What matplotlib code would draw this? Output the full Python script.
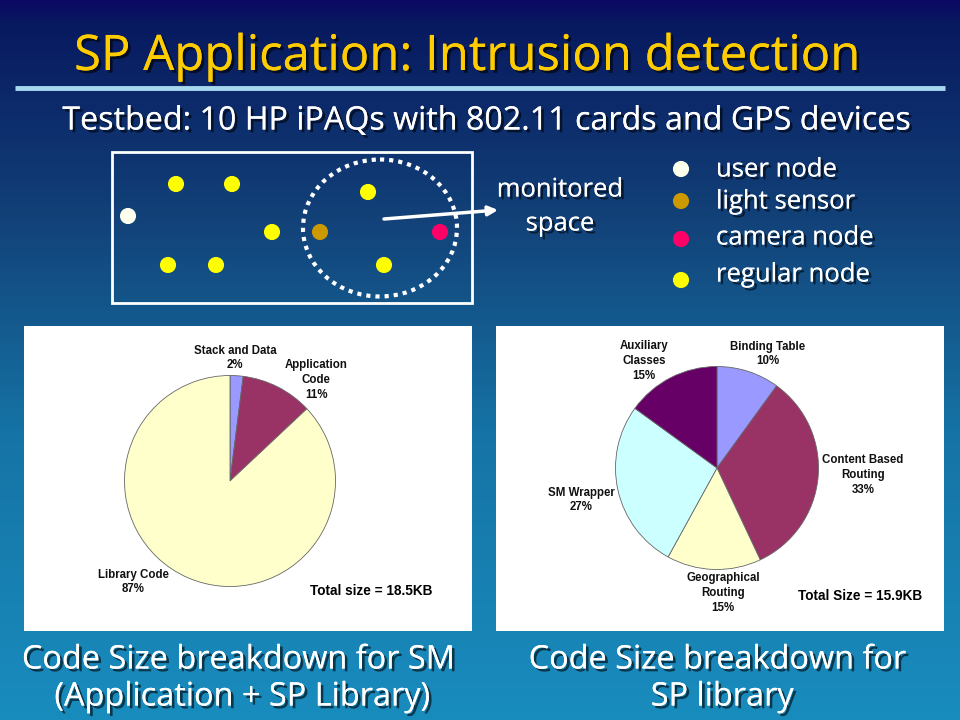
import matplotlib
matplotlib.use('Agg')
import matplotlib.pyplot as plt
import numpy as np
from matplotlib import patheffects as pe
from matplotlib.patches import Ellipse, Rectangle

# ---------------- data ----------------
title = "SP Application: Intrusion detection"
subtitle = "Testbed: 10 HP iPAQs with 802.11 cards and GPS devices"

node_types = ["regular", "regular", "user", "regular", "light", "regular",
              "camera", "regular", "regular", "regular"]
node_x = [176, 232, 128, 272, 320, 368, 440, 168, 216, 384]
node_y = [184, 184, 216, 232, 232, 192, 232, 265, 265, 265]

legend_types = ["user", "light", "camera", "regular"]
legend_labels = ["user node", "light sensor", "camera node", "regular node"]
node_colors = {"user": "#ffffee", "light": "#cc9900",
               "camera": "#ff0066", "regular": "#ffff00"}

sm_labels = ["Stack and Data", "Application\nCode", "Library Code"]
sm_values = [2, 11, 87]
sm_total = "Total size = 18.5KB"
sm_caption = ["Code Size breakdown for SM", "(Application + SP Library)"]

lib_labels = ["Binding Table", "Content Based\nRouting", "Geographical\nRouting",
              "SM Wrapper", "Auxiliary\nClasses"]
lib_values = [10, 33, 15, 27, 15]
lib_total = "Total Size = 15.9KB"
lib_caption = ["Code Size breakdown for", "SP library"]

sm_colors = ["#9999ff", "#993366", "#ffffcc"]
lib_colors = ["#9999ff", "#993366", "#ffffcc", "#ccffff", "#660066"]

# ---------------- figure ----------------
W, H = 960, 720
fig = plt.figure(figsize=(9.6, 7.2), dpi=100)
ax = fig.add_axes([0, 0, 1, 1])

# background gradient
t = np.linspace(0, 1, 400)
stops_t = [0.0, 0.03, 0.3, 0.6, 1.0]
stops_c = np.array([(12, 8, 100), (8, 25, 95), (18, 65, 120),
                    (22, 115, 165), (25, 140, 190)]) / 255.0
grad = np.stack([np.interp(t, stops_t, stops_c[:, i]) for i in range(3)], axis=1)
grad = np.repeat(grad[:, None, :], 2, axis=1)
ax.imshow(grad, extent=[0, W, H, 0], aspect='auto', zorder=0, interpolation='bilinear')
ax.set_xlim(0, W)
ax.set_ylim(H, 0)
ax.axis('off')

renderer = fig.canvas.get_renderer()
shadow = [pe.withSimplePatchShadow(offset=(2, -2), shadow_rgbFace='black', alpha=0.6),
          pe.Normal()]
FONT = "Open Sans"


def fit(txt, width):
    bb = txt.get_window_extent(renderer)
    txt.set_fontsize(txt.get_fontsize() * width / bb.width)
    return txt.get_fontsize()


# title
tt = ax.text(468, 57, title, color="#ffcc00", ha='center', va='center',
             family=FONT, fontsize=30, path_effects=shadow, zorder=5)
fit(tt, 787)
ax.plot([15, 945], [88, 88], color="#a8d8f0", lw=3.5, solid_capstyle='butt', zorder=4)

st = ax.text(486, 121, subtitle, color="white", ha='center', va='center',
             family=FONT, fontsize=18, path_effects=shadow, zorder=5)
fit(st, 848)

# testbed box
ax.add_patch(Rectangle((112, 152), 360, 151, fill=False, ec='white', lw=2, zorder=3))
ax.add_patch(Ellipse((380, 228), 154, 137, fill=False, ec='white', lw=3,
                     linestyle=(0, (1, 1.2)), zorder=3))
ax.scatter(node_x, node_y, s=135, c=[node_colors[k] for k in node_types],
           edgecolors='none', zorder=4)
ax.annotate('', xy=(498, 210), xytext=(384, 219),
            arrowprops=dict(arrowstyle='-|>', color='white', lw=2.5,
                            mutation_scale=14, shrinkA=0, shrinkB=0), zorder=4)

m1 = ax.text(560, 190, "monitored", color='white', ha='center', va='center',
             family=FONT, fontsize=15, path_effects=shadow, zorder=5)
fs = fit(m1, 126)
ax.text(560, 224, "space", color='white', ha='center', va='center',
        family=FONT, fontsize=fs, path_effects=shadow, zorder=5)

# legend
leg_y_dot = [169, 201, 239, 280]
leg_y_txt = [170, 202, 238, 275]
ax.scatter([681] * 4, leg_y_dot, s=135, c=[node_colors[k] for k in legend_types],
           edgecolors='none', zorder=4)
lts = []
for lab, y in zip(legend_labels, leg_y_txt):
    lts.append(ax.text(716, y, lab, color='white', ha='left', va='center',
                       family=FONT, fontsize=15, path_effects=shadow, zorder=5))
fs = fit(lts[3], 154)
for l in lts:
    l.set_fontsize(fs)

# panels
ax.add_patch(Rectangle((24, 326), 448, 305, fc='white', ec='none', zorder=2))
ax.add_patch(Rectangle((496, 326), 448, 305, fc='white', ec='none', zorder=2))


def pie_axes(cx, cy, r):
    a = fig.add_axes([(cx - r) / W, (H - cy - r) / H, 2 * r / W, 2 * r / H])
    a.set_facecolor('none')
    return a


wedge_kw = dict(edgecolor='#666666', linewidth=0.6)

pa = pie_axes(230, 481, 105.5)
pa.pie(sm_values, colors=sm_colors, startangle=90, counterclock=False,
       radius=1, wedgeprops=wedge_kw)
pa.set_xlim(-1.0, 1.0)
pa.set_ylim(-1.0, 1.0)
pa.axis('off')

pb = pie_axes(717, 468, 101.5)
pb.pie(lib_values, colors=lib_colors, startangle=90, counterclock=False,
       radius=1, wedgeprops=wedge_kw)
pb.set_xlim(-1.0, 1.0)
pb.set_ylim(-1.0, 1.0)
pb.axis('off')

LFONT = "Liberation Sans"
lab_fs = 8.3
sm_pos = [(235, 358), (316, 380), (133, 582)]
for lab, v, (x, y) in zip(sm_labels, sm_values, sm_pos):
    ax.text(x, y, f"{lab}\n{v}%", ha='center', va='center', family=LFONT,
            weight='bold', fontsize=lab_fs, linespacing=1.3, color='#111111', zorder=6)
lib_pos = [(768, 354), (863, 475), (723, 593), (581, 500), (644, 361)]
for lab, v, (x, y) in zip(lib_labels, lib_values, lib_pos):
    ax.text(x, y, f"{lab}\n{v}%", ha='center', va='center', family=LFONT,
            weight='bold', fontsize=lab_fs, linespacing=1.3, color='#111111', zorder=6)

t1 = ax.text(371, 591, sm_total, ha='center', va='center', family=LFONT,
             weight='bold', fontsize=10, color='black', zorder=6)
fs = fit(t1, 123)
ax.text(860, 596, lib_total, ha='center', va='center', family=LFONT,
        weight='bold', fontsize=fs, color='black', zorder=6)

# captions
c1 = ax.text(238, 660, sm_caption[0], color='white', ha='center', va='center',
             family=FONT, fontsize=18, path_effects=shadow, zorder=5)
fs = fit(c1, 433)
ax.text(242, 697, sm_caption[1], color='white', ha='center', va='center',
        family=FONT, fontsize=fs, path_effects=shadow, zorder=5)
ax.text(717, 660, lib_caption[0], color='white', ha='center', va='center',
        family=FONT, fontsize=fs, path_effects=shadow, zorder=5)
ax.text(722, 697, lib_caption[1], color='white', ha='center', va='center',
        family=FONT, fontsize=fs, path_effects=shadow, zorder=5)

fig.savefig("out.png", dpi=100)
